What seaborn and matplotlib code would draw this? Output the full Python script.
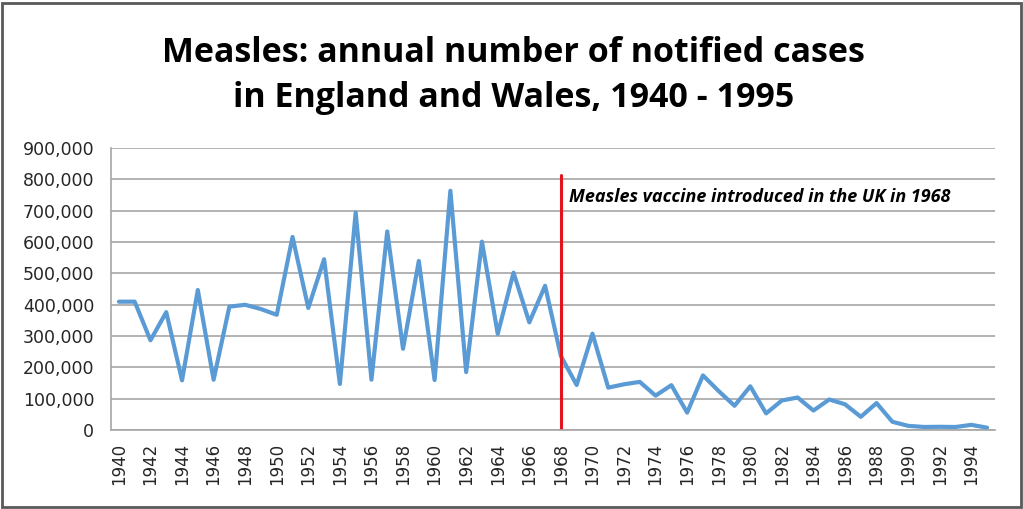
import numpy as np
import pandas as pd
import matplotlib.pyplot as plt
import seaborn as sns
from matplotlib.ticker import FuncFormatter, MultipleLocator
from matplotlib.patches import Rectangle

# Data: annual notified measles cases, England and Wales
years = list(range(1940, 1996))
cases = [409521, 409715, 286341, 376104, 158479, 446796, 160402, 393787,
         399606, 385987, 367725, 616192, 389487, 545050, 146995, 693803,
         160556, 633678, 259308, 539524, 159364, 763531, 184895, 601255,
         306801, 502209, 343642, 460407, 236154, 143686, 307408, 135241,
         145916, 153558, 109636, 143126, 55502, 174276, 124067, 77363,
         139487, 52979, 94195, 103700, 62079, 97408, 82054, 42165,
         86001, 26222, 13302, 9680, 10268, 9612, 16375, 7447]
vaccine_year = 1968
vaccine_text = "Measles vaccine introduced in the UK in 1968"
title = "Measles: annual number of notified cases\nin England and Wales, 1940 - 1995"

df = pd.DataFrame({"year": years, "cases": cases})

sns.set_style("white")
plt.rcParams["font.family"] = ["DejaVu Sans"]

fig = plt.figure(figsize=(10.23, 5.09), dpi=100)
ax = fig.add_axes([0.1085, 0.1552, 0.8641, 0.5540])

sns.lineplot(data=df, x="year", y="cases", color="#5B9BD5", linewidth=3, ax=ax)

# Vaccine marker
ax.plot([vaccine_year, vaccine_year], [0, 815000], color="#E3141B", linewidth=2.2)
ax.text(vaccine_year + 0.5, 745000, vaccine_text, fontsize=13, fontweight="bold",
        fontstyle="italic", color="black", va="center", ha="left",
        family=["Open Sans", "DejaVu Sans"])

ax.set_xlim(1939.5, 1995.5)
ax.set_ylim(0, 900000)
ax.yaxis.set_major_locator(MultipleLocator(100000))
ax.yaxis.set_major_formatter(FuncFormatter(lambda v, p: f"{int(v):,}"))
ax.grid(axis="y", color="#A6A6A6", linewidth=1.2)
ax.set_axisbelow(True)

ax.set_xticks(list(range(1940, 1996, 2)))
ax.set_xticklabels([str(y) for y in range(1940, 1996, 2)], rotation=90)
ax.set_xticks(np.arange(1939.5, 1996, 1), minor=True)
ax.tick_params(axis="x", which="major", length=0, labelsize=12, pad=9)
ax.tick_params(axis="x", which="minor", length=6, color="#A6A6A6", width=1.2)
ax.tick_params(axis="y", length=6, color="#A6A6A6", width=1.2, labelsize=12.5, pad=6)
ax.set_xlabel("")
ax.set_ylabel("")

for s in ["top", "right"]:
    ax.spines[s].set_visible(False)
for s in ["left", "bottom"]:
    ax.spines[s].set_color("#A6A6A6")
    ax.spines[s].set_linewidth(1.2)

fig.text(0.502, 0.852, title, ha="center", va="center", fontsize=24.5,
         fontweight="bold", linespacing=1.4, color="black",
         family=["Open Sans", "DejaVu Sans"])

fig.patches.append(Rectangle((0.002, 0.004), 0.996, 0.99, transform=fig.transFigure,
                             fill=False, edgecolor="#595959", linewidth=2))

fig.savefig("out.png", dpi=100)
